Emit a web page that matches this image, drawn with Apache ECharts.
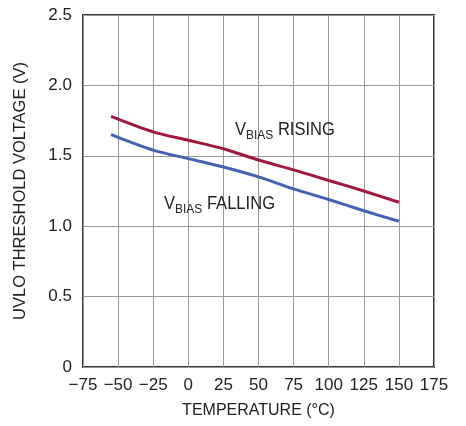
<!DOCTYPE html>
<html>
<head>
<meta charset="utf-8">
<script src="https://cdn.jsdelivr.net/npm/echarts@6/dist/echarts.min.js"></script>
<style>html,body{margin:0;padding:0;background:#fff;}#c{width:466px;height:426px;}</style>
</head>
<body>
<div id="c"></div>
<script>
const temperatures = [-55, -25, 0, 25, 50, 75, 100, 125, 150];
const risingVolts  = [1.78, 1.67, 1.61, 1.55, 1.47, 1.40, 1.325, 1.25, 1.17];
const fallingVolts = [1.65, 1.54, 1.48, 1.42, 1.35, 1.265, 1.19, 1.11, 1.035];
const xTicks = [-75, -50, -25, 0, 25, 50, 75, 100, 125, 150, 175];
const yTicks = [0, 0.5, 1.0, 1.5, 2.0, 2.5];

const FONT = "'Liberation Sans Narrow', 'Arial Narrow', 'Liberation Sans', sans-serif";
const chart = echarts.init(document.getElementById('c'));
const pair = (xs, ys) => xs.map((x, i) => [x, ys[i]]);
const richStyle = {
  a: { fontFamily: FONT, fontSize: 18, fill: '#222', verticalAlign: 'bottom' },
  b: { fontFamily: FONT, fontSize: 13, fill: '#222', verticalAlign: 'bottom', padding: [0, 0, -3, 0] }
};

chart.setOption({
  animation: false,
  backgroundColor: '#fff',
  grid: { left: 83, top: 15, width: 351, height: 352, show: true, borderColor: '#333', borderWidth: 2, backgroundColor: 'transparent' },
  xAxis: {
    type: 'value', min: xTicks[0], max: xTicks[xTicks.length - 1], interval: 25,
    name: 'TEMPERATURE (°C)', nameLocation: 'middle', nameGap: 36,
    nameTextStyle: { fontFamily: FONT, fontSize: 16, color: '#222' },
    axisLine: { show: false }, axisTick: { show: false },
    axisLabel: { fontFamily: FONT, fontSize: 17, color: '#222', margin: 10,
      formatter: v => (v < 0 ? '\u2212' + Math.abs(v) : String(v)) },
    splitLine: { show: true, lineStyle: { color: '#999', width: 1 } }
  },
  yAxis: {
    type: 'value', min: yTicks[0], max: yTicks[yTicks.length - 1], interval: 0.5,
    name: 'UVLO THRESHOLD VOLTAGE (V)', nameLocation: 'middle', nameGap: 54, nameRotate: 90,
    nameTextStyle: { fontFamily: FONT, fontSize: 16.5, color: '#222' },
    axisLine: { show: false }, axisTick: { show: false },
    axisLabel: { fontFamily: FONT, fontSize: 17, color: '#222', margin: 11,
      formatter: v => (v === 0 ? '0' : v.toFixed(1)) },
    splitLine: { show: true, lineStyle: { color: '#999', width: 1 } }
  },
  graphic: [
    { type: 'text', x: 235, y: 121, scaleX: 0.92, z: 10, style: {
      text: '{a|V}{b|BIAS}{a| RISING}', fontFamily: FONT, rich: richStyle } },
    { type: 'text', x: 164, y: 195, scaleX: 0.92, z: 10, style: {
      text: '{a|V}{b|BIAS}{a| FALLING}', fontFamily: FONT, rich: richStyle } }
  ],
  series: [
    { type: 'line', data: pair(temperatures, risingVolts), smooth: 0.3, symbol: 'none',
      lineStyle: { color: '#a0183c', width: 3 }, z: 5 },
    { type: 'line', data: pair(temperatures, fallingVolts), smooth: 0.3, symbol: 'none',
      lineStyle: { color: '#4262b2', width: 3 }, z: 5 }
  ]
});
</script>
</body>
</html>
